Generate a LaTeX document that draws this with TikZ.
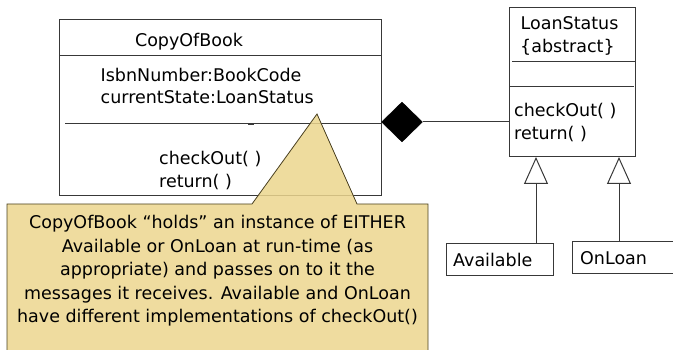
\documentclass[tikz,border=0pt]{standalone}
\usepackage{fontspec}
\setmainfont{DejaVu Sans}
\usetikzlibrary{shapes.geometric,arrows.meta}
\definecolor{umlline}{HTML}{383838}
\definecolor{notefill}{HTML}{ECD68E}
\definecolor{noteline}{HTML}{4A4020}
\tikzset{
  umlbox/.style={draw=umlline, line width=1pt, fill=white, anchor=north west, inner sep=0pt},
  umltext/.style={anchor=base west, inner sep=0pt, font=\fontsize{17.5}{21}\selectfont, text=black},
  umlrule/.style={draw=umlline, line width=1pt},
  genarrow/.style={draw=umlline, line width=1pt, -{Triangle[open, length=27pt, width=24pt, line width=1pt]}},
}
\begin{document}
\begin{tikzpicture}[x=1pt, y=-1pt]
\useasboundingbox (0,0) rectangle (673,350);

% CopyOfBook class
\node[umlbox, minimum width=322pt, minimum height=176pt] (cob) at (59,19) {};
\draw[umlrule] (59,56) -- (381,56);
\draw[umlrule] (65,124) -- (381,124);
\draw[umlline, line width=2.4pt] (248,124) -- (254,124);
\node[umltext, anchor=base] (cobname) at (189,47) {CopyOfBook};
\node[umltext] (cobattr1) at (100.5,82) {IsbnNumber:BookCode};
\node[umltext] (cobattr2) at (100.5,104) {currentState:LoanStatus};
\node[umltext] (cobop1) at (159,165) {checkOut( )};
\node[umltext] (cobop2) at (159,188) {return( )};

% LoanStatus class
\node[umlbox, minimum width=126pt, minimum height=149pt] (loan) at (509,7) {};
\draw[umlrule] (512,62) -- (635,62);
\draw[umlrule] (510,87) -- (634,87);
\node[umltext] (loanname) at (520.5,30) {LoanStatus};
\node[umltext] (loanabs) at (520,52.5) {\{abstract\}};
\node[umltext] (loanop1) at (514,116.5) {checkOut( )};
\node[umltext] (loanop2) at (514,140) {return( )};

% composition
\node[diamond, fill=black, draw=black, inner sep=0pt, minimum width=41pt, minimum height=40pt] (comp) at (402,122) {};
\draw[umlrule] (comp.east) -- (loan.west |- comp.east);

% subclasses
\node[umlbox, minimum width=107pt, minimum height=32pt] (avail) at (446,243) {};
\node[umltext] (availtxt) at (453,267) {Available};
\node[umlbox, minimum width=120pt, minimum height=32pt] (onloan) at (572,241) {};
\node[umltext] (onloantxt) at (580,265) {OnLoan};
\coordinate (availtop) at (536,243);
\coordinate (onloantop) at (619,241);
\draw[genarrow] (availtop) -- (availtop |- loan.south);
\draw[genarrow] (onloantop) -- (onloantop |- loan.south);

% note callout
\path[fill=notefill, fill opacity=0.85, draw=noteline, line width=0.8pt]
  (7,360) -- (7,204) -- (252,204) -- (317,114) -- (357,204) -- (428,204) -- (428,360);
\node[anchor=north, align=center, inner sep=0pt, font=\fontsize{17.5}{23.5}\selectfont] (note) at (217.5,215.5)
  {CopyOfBook “holds” an instance of EITHER\\
   Available or OnLoan at run-time (as\\
   appropriate) and passes on to it the\\
   messages it receives. Available and OnLoan\\
   have different implementations of checkOut()};
\end{tikzpicture}
\end{document}
